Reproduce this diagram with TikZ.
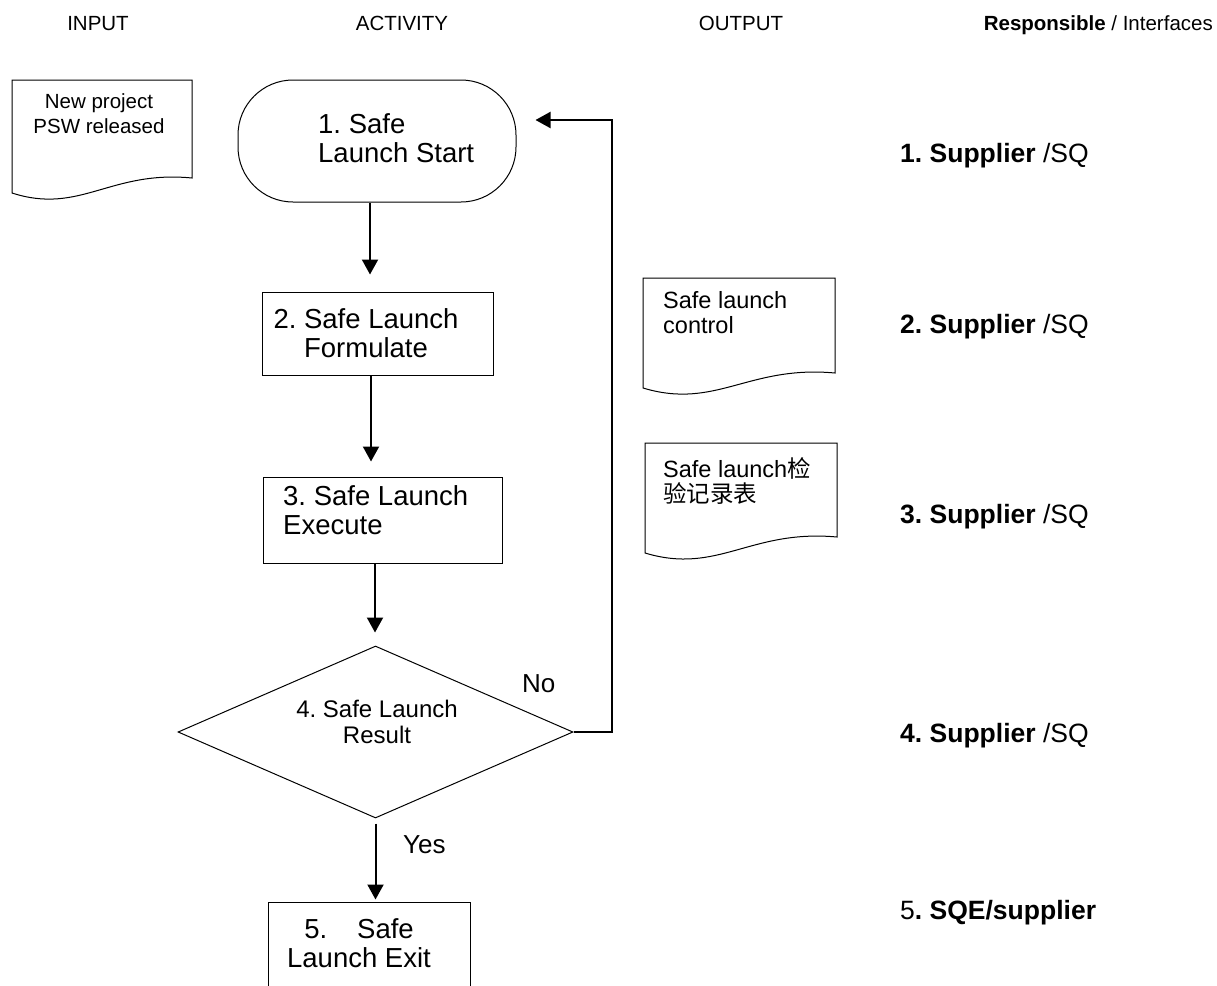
\documentclass[tikz,border=0pt]{standalone}
\usepackage{fontspec}
\setmainfont{Liberation Sans}
\newfontfamily\cjk{Noto Sans CJK SC}
\usetikzlibrary{arrows.meta,shapes.geometric}
\frenchspacing

\begin{document}
\begin{tikzpicture}[x=1pt, y=-1pt,
        every node/.style={inner sep=0pt},
        flow/.style={line width=2pt, -{Triangle[width=16pt, length=15pt]}},
        outline/.style={draw, line width=1pt},
        actbox/.style={outline, rectangle, minimum width=#1},
        bigtxt/.style={font=\fontsize{27.5}{29}\selectfont},
        midtxt/.style={font=\fontsize{23.5}{25}\selectfont},
        headtxt/.style={font=\fontsize{20.5}{24}\selectfont, anchor=base},
        resptxt/.style={font=\fontsize{26.5}{30}\selectfont, anchor=base west},
        answer/.style={font=\fontsize{26}{30}\selectfont, anchor=base west}
    ]
        \clip (0,0) rectangle (1217,985);

        % Column heads
        \node[headtxt] (hin) at (98,30) {INPUT};
        \node[headtxt] (hact) at (402,30) {ACTIVITY};
        \node[headtxt] (hout) at (741,30) {OUTPUT};
        \node[headtxt, anchor=base east] (hresp) at (1213,30) {\textbf{Responsible} / Interfaces};

        % Documents
        \draw[outline] (12,80) -- (192,80) -- (192,178)
            .. controls (110,170) and (80,215) .. (12,193) -- cycle;
        \draw[outline] (643,278) -- (835,278) -- (835,373)
            .. controls (748,365) and (716,410) .. (643,388) -- cycle;
        \draw[outline] (645,443) -- (837,443) -- (837,537)
            .. controls (750,529) and (718,575) .. (645,553) -- cycle;
        \node[font=\fontsize{20.5}{25}\selectfont, anchor=north, align=center] (psw) at (99,93)
            {New project\\PSW released};
        \node[midtxt, anchor=north west, align=left] (ctrl) at (663,291)
            {Safe launch\\control};
        \node[midtxt, anchor=north west, align=left] (rec) at (663,457)
            {Safe launch{\cjk 检}\\{\cjk 验记录表}};

        % Activities
        \node[outline, rectangle, rounded corners=55pt, minimum width=278pt, minimum height=122pt] (start) at (377,141) {};
        \node[bigtxt, anchor=north west, align=left] (starttxt) at (318,113) {1. Safe\\Launch Start};

        \node[actbox=231pt, minimum height=83pt] (formulate) at (377.5,333.5) {};
        \node[bigtxt, anchor=north, align=center] (formtxt) at (366,308) {2. Safe Launch\\Formulate};

        \node[actbox=239pt, minimum height=86pt] (execute) at (382.5,520) {};
        \node[bigtxt, anchor=north west, align=left] (exectxt) at (283,485) {3. Safe Launch\\Execute};

        \node[outline, diamond, minimum width=395pt, minimum height=172pt] (result) at (375.5,732) {};
        \node[font=\fontsize{24}{26}\selectfont, anchor=north, align=center] (restxt) at (377,700)
            {4. Safe Launch\\Result};

        \node[actbox=202pt, minimum height=108pt] (exit) at (369,956) {};
        \node[bigtxt, anchor=north, align=center] (exittxt) at (359,918) {5.\hspace{30pt}Safe\\Launch Exit};

        % Flow
        \draw[flow, shorten >=17pt] ([xshift=-7pt]start.south) -- ([xshift=-7pt]start.south |- formulate.north);
        \draw[flow, shorten >=15pt] ([xshift=-6.5pt]formulate.south) -- ([xshift=-6.5pt]formulate.south |- execute.north);
        \draw[flow, shorten >=13pt] ([xshift=-7.5pt]execute.south) -- ([xshift=-7.5pt]execute.south |- result.north);
        \draw[flow, shorten <=5pt, shorten >=2pt] (result.south) -- (result.south |- exit.north);
        \coordinate (back) at (612,120);
        \draw[flow, shorten >=19pt] (result.east) -| (back) -- (start.east |- back);
        \node[answer] (no) at (522,692) {No};
        \node[answer] (yes) at (403,853) {Yes};

        % Responsible
        \node[resptxt] (r1) at (900,162) {\textbf{1. Supplier} /SQ};
        \node[resptxt] (r2) at (900,333) {\textbf{2. Supplier} /SQ};
        \node[resptxt] (r3) at (900,523) {\textbf{3. Supplier} /SQ};
        \node[resptxt] (r4) at (900,742) {\textbf{4. Supplier} /SQ};
        \node[resptxt] (r5) at (900,919) {5\textbf{. SQE/supplier}};

    \end{tikzpicture}
\end{document}
